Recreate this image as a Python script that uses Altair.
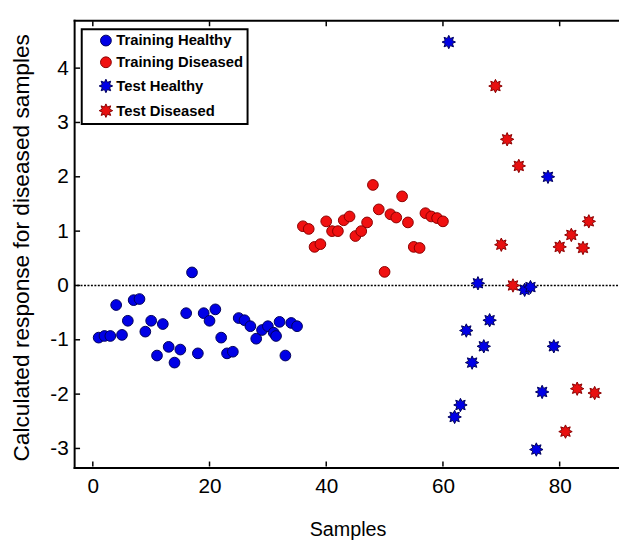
import math
import altair as alt
import pandas as pd

# ---- data ----
th_x = [1, 2, 3, 4, 5, 6, 7, 8, 9, 10, 11, 12, 13, 14, 15, 16, 17, 18, 19, 20,
        21, 22, 23, 24, 25, 26, 27, 28, 29, 30, 31, 31.4, 32, 33, 34, 35]
th_y = [-0.96, -0.93, -0.93, -0.36, -0.91, -0.65, -0.27, -0.25, -0.85, -0.65,
        -1.29, -0.71, -1.13, -1.42, -1.18, -0.51, 0.24, -1.25, -0.51, -0.65,
        -0.44, -0.96, -1.25, -1.22, -0.60, -0.64, -0.75, -0.98, -0.82, -0.75,
        -0.87, -0.93, -0.67, -1.29, -0.69, -0.75]

td_x = list(range(36, 61))
td_y = [1.09, 1.04, 0.71, 0.76, 1.18, 1.00, 1.00, 1.20, 1.27, 0.91,
        1.00, 1.16, 1.85, 1.40, 0.25, 1.31, 1.25, 1.64, 1.16, 0.71,
        0.69, 1.33, 1.27, 1.24, 1.18]

sh_x = [61, 62, 63, 64, 65, 66, 67, 68, 74, 75, 76, 77, 78, 79]
sh_y = [4.48, -2.42, -2.20, -0.83, -1.42, 0.04, -1.12, -0.64, -0.08, -0.03,
        -3.02, -1.96, 2.00, -1.12]

sd_x = [69, 70, 71, 72, 73, 80, 81, 82, 83, 84, 85, 86]
sd_y = [3.67, 0.75, 2.69, 0.00, 2.20, 0.71, -2.69, 0.93, -1.90, 0.69, 1.18, -1.98]

groups = ["Training Healthy", "Training Diseased", "Test Healthy", "Test Diseased"]
x_ticks = [0, 20, 40, 60, 80]
y_ticks = [-3, -2, -1, 0, 1, 2, 3, 4]
zero_line = [0]

rows = []
for g, xs, ys in zip(groups, [th_x, td_x, sh_x, sd_x], [th_y, td_y, sh_y, sd_y]):
    for a, b in zip(xs, ys):
        rows.append({"sample": a, "response": b, "group": g})
df = pd.DataFrame(rows)

# 8-pointed star symbol
pts = []
for k in range(16):
    ang = -math.pi / 2 + k * math.pi / 8
    r = 1.25 if k % 2 == 0 else 0.72
    pts.append(f"{r * math.cos(ang):.3f},{r * math.sin(ang):.3f}")
star = "M" + " L".join(pts) + " Z"

W, H = 551, 453
FONT = "Liberation Sans"

xscale = alt.Scale(domain=[-3.2, 90], nice=False, zero=False)
yscale = alt.Scale(domain=[-3.35, 4.88], nice=False, zero=False)

xaxis = alt.Axis(title="Samples", values=x_ticks, ticks=False, tickSize=0, grid=False,
                 labelFont=FONT, labelFontSize=21, labelColor="black", labelPadding=8,
                 domainColor="black", domainWidth=2, domainCap="square",
                 titleFont=FONT, titleFontSize=20, titleFontWeight="normal", titleColor="black",
                 titleX=277, titleY=63, titleBaseline="middle", titleAlign="center")
xaxis_top = alt.Axis(orient="top", title=None, labels=False, ticks=False, tickSize=0, grid=False,
                     domainColor="black", domainWidth=2, domainCap="square")
yaxis = alt.Axis(title="Calculated response for diseased samples", values=y_ticks, ticks=False,
                 tickSize=0, grid=False, labelExpr="datum.value + ''",
                 labelFont=FONT, labelFontSize=21, labelColor="black", labelPadding=6,
                 domainColor="black", domainWidth=2, domainCap="square",
                 titleFont=FONT, titleFontSize=23, titleFontWeight="normal", titleColor="black",
                 titleX=-53, titleY=230, titleAngle=270, titleBaseline="middle", titleAlign="center")

legend = alt.Legend(title=None, orient="none", legendX=7.7, legendY=9, strokeColor="black",
                    fillColor="white", padding=4, symbolOffset=13, labelOffset=3, rowPadding=6,
                    labelFont=FONT, labelFontSize=15, labelFontWeight="bold", labelColor="black",
                    symbolSize=120, symbolStrokeWidth=1)

fill_scale = alt.Scale(domain=groups, range=["#0000e6", "#f01010", "#0000e6", "#e81010"])
stroke_scale = alt.Scale(domain=groups, range=["#00005a", "#8a0000", "#00005a", "#8a0000"])
shape_scale = alt.Scale(domain=groups, range=["circle", "circle", star, star])

zero = alt.Chart(pd.DataFrame({"z": zero_line})).mark_rule(
    strokeDash=[2, 1.5], strokeWidth=1.5, color="black"
).encode(y=alt.Y("z:Q", scale=yscale, axis=yaxis))

xt = pd.DataFrame({"t": x_ticks})
yt = pd.DataFrame({"t": y_ticks})
xb = alt.Chart(xt).mark_tick(orient="vertical", size=5, thickness=1.5, color="black", opacity=1).encode(
    x=alt.X("t:Q", scale=xscale, axis=None), y=alt.value(H - 3.5))
xtop = alt.Chart(xt).mark_tick(orient="vertical", size=5, thickness=1.5, color="black", opacity=1).encode(
    x=alt.X("t:Q", scale=xscale, axis=xaxis_top), y=alt.value(3.5))
yl = alt.Chart(yt).mark_tick(orient="horizontal", size=5, thickness=1.5, color="black", opacity=1).encode(
    y=alt.Y("t:Q", scale=yscale, axis=yaxis), x=alt.value(3.5))

points = alt.Chart(df).mark_point(filled=True, size=118, strokeWidth=1, opacity=1).encode(
    x=alt.X("sample:Q", scale=xscale, axis=xaxis),
    y=alt.Y("response:Q", scale=yscale, axis=yaxis),
    fill=alt.Fill("group:N", scale=fill_scale, legend=legend),
    stroke=alt.Stroke("group:N", scale=stroke_scale, legend=legend),
    shape=alt.Shape("group:N", scale=shape_scale, legend=legend),
)

chart = alt.layer(zero, xb, xtop, yl, points).resolve_axis(x="independent").properties(
    width=W, height=H,
    padding={"left": 67, "top": 9, "right": 1, "bottom": 70},
    autosize=alt.AutoSizeParams(type="none"),
).configure_view(stroke=None).configure_legend(strokeWidth=2)

chart.save("out.html", embed_options={"renderer": "svg", "actions": False})
